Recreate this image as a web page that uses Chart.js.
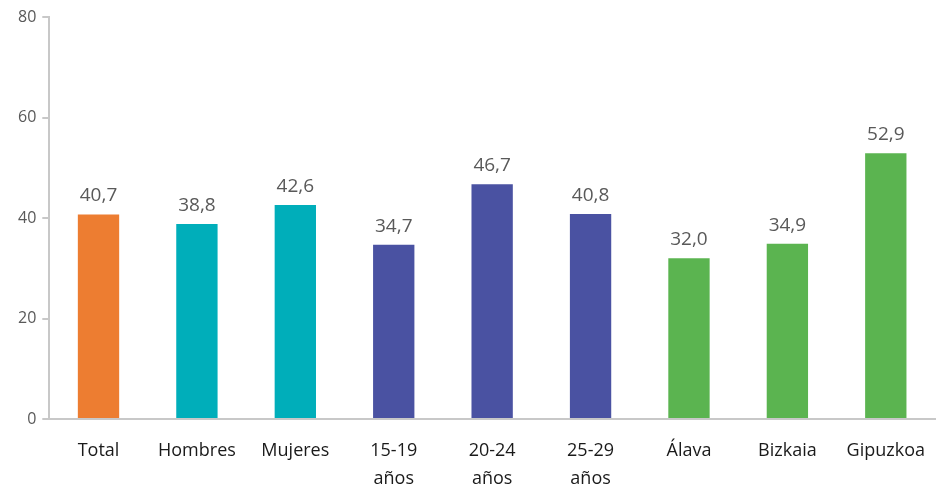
<!DOCTYPE html>
<html lang="es">
<head>
  <meta charset="UTF-8">
  <title>Chart</title>
  <script src="https://cdn.jsdelivr.net/npm/chart.js"></script>
  <style>
    html, body { margin: 0; padding: 0; background: #fff; }
    #wrap { width: 938px; height: 490px; }
  </style>
</head>
<body>
<div id="wrap">
  <canvas id="myChart"></canvas>
</div>
<script>
const labels = ['Total', 'Hombres', 'Mujeres', ['15-19', 'años'], ['20-24', 'años'], ['25-29', 'años'], 'Álava', 'Bizkaia', 'Gipuzkoa'];
const values = [40.7, 38.8, 42.6, 34.7, 46.7, 40.8, 32.0, 34.9, 52.9];
const colors = ['#ED7D31', '#00AEBA', '#00AEBA', '#4A52A2', '#4A52A2', '#4A52A2', '#5BB450', '#5BB450', '#5BB450'];
const yTicks = [0, 20, 40, 60, 80];

// draws the value above each bar, comma as decimal separator
const valueLabels = {
  id: 'valueLabels',
  afterDatasetsDraw(chart) {
    const ctx = chart.ctx;
    const meta = chart.getDatasetMeta(0);
    ctx.save();
    ctx.font = '19px "Open Sans", sans-serif';
    ctx.fillStyle = '#595959';
    ctx.textAlign = 'center';
    ctx.textBaseline = 'bottom';
    meta.data.forEach(function (bar, i) {
      ctx.fillText(values[i].toFixed(1).replace('.', ','), bar.x, bar.y - 9);
    });
    ctx.restore();
  }
};

const data = {
  labels: labels,
  datasets: [{
    data: values,
    backgroundColor: colors,
    barPercentage: 0.42,
    categoryPercentage: 1.0
  }]
};

const config = {
  type: 'bar',
  data: data,
  plugins: [valueLabels],
  options: {
    responsive: true,
    maintainAspectRatio: false,
    animation: false,
    layout: { padding: { top: 17, right: 3, left: 12, bottom: 0 } },
    plugins: {
      legend: { display: false },
      tooltip: { enabled: false }
    },
    scales: {
      x: {
        afterFit(axis) { axis.height = 71; },
        grid: { display: false },
        border: { display: true, color: '#C8C8C8', width: 2 },
        ticks: {
          color: '#1a1a1a',
          font: { family: '"Open Sans", sans-serif', size: 18, lineHeight: 1.55 },
          padding: 10,
          maxRotation: 0,
          autoSkip: false
        }
      },
      y: {
        min: 0,
        max: 80,
        afterBuildTicks(axis) { axis.ticks = yTicks.map(v => ({ value: v })); },
        grid: { drawOnChartArea: false, drawTicks: true, tickLength: 7, color: '#C8C8C8', lineWidth: 2 },
        border: { display: true, color: '#C8C8C8', width: 2 },
        ticks: {
          color: '#595959',
          font: { family: '"Open Sans", sans-serif', size: 16 },
          padding: 6
        }
      }
    }
  }
};

const myChart = new Chart(document.getElementById('myChart'), config);
</script>
</body>
</html>
